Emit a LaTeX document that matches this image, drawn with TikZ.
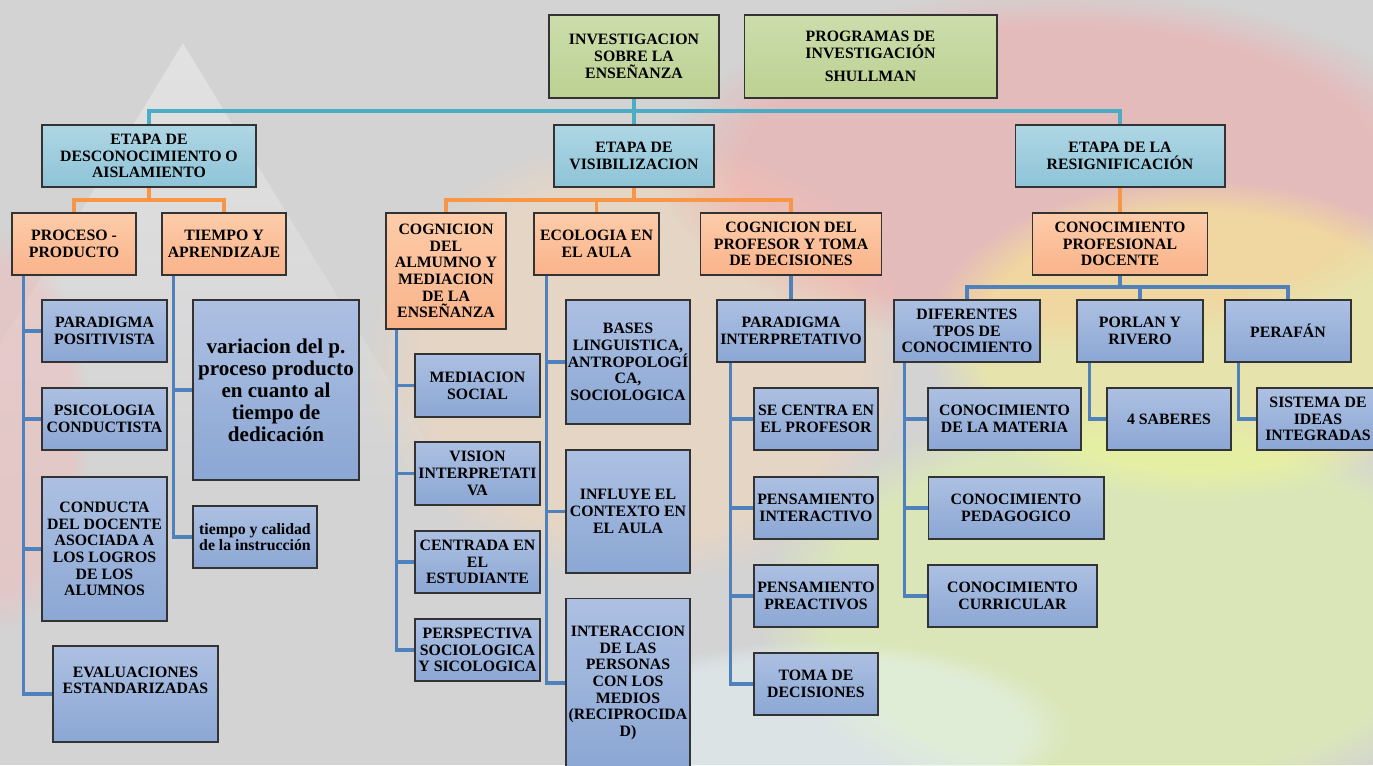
\documentclass[tikz,border=0pt]{standalone}
\usepackage{fontspec}
\setmainfont{Liberation Serif}
\usetikzlibrary{fadings}

\definecolor{bggray}{HTML}{D3D3D3}
\definecolor{greentop}{HTML}{CCDDAC}
\definecolor{greenbot}{HTML}{BCD192}
\definecolor{stagetop}{HTML}{AFD6E4}
\definecolor{stagebot}{HTML}{8EC4D8}
\definecolor{themetop}{HTML}{FDCCA9}
\definecolor{themebot}{HTML}{F9B38A}
\definecolor{leaftop}{HTML}{ADC0E2}
\definecolor{leafbot}{HTML}{8BA7D4}
\definecolor{boxline}{HTML}{333333}
\definecolor{topblue}{HTML}{4BACC6}
\definecolor{themeorange}{HTML}{F79646}
\definecolor{leafblue}{HTML}{4F81BD}

\tikzset{
  basebox/.style={draw=boxline, line width=0.6pt, align=center,
    inner xsep=1pt, inner ysep=1pt,
    font=\bfseries\fontsize{9}{9.5}\selectfont},
  greenbox/.style={basebox, top color=greentop, bottom color=greenbot,
    minimum height=1.66cm},
  stagebox/.style={basebox, top color=stagetop, bottom color=stagebot,
    minimum height=1.24cm},
  themebox/.style={basebox, top color=themetop, bottom color=themebot,
    minimum width=2.48cm, minimum height=1.24cm},
  leafbox/.style={basebox, top color=leaftop, bottom color=leafbot,
    minimum width=2.48cm, minimum height=1.24cm},
  topline/.style={draw=topblue, line width=1.8pt},
  themeline/.style={draw=themeorange, line width=1.8pt},
  leafline/.style={draw=leafblue, line width=1.8pt},
  fuzzy/.style={path fading=circle with fuzzy edge 20 percent}
}

\begin{document}
\begin{tikzpicture}[x=0.02cm,y=-0.02cm]
  \useasboundingbox (0,0) rectangle (1373,765);
  % background
  \begin{scope}
    \clip (0,0) rectangle (1373,765);
    \fill[bggray] (0,0) rectangle (1373,765);
    \fill[white, opacity=0.35, path fading=south] (183,43) -- (-94,500) -- (462,500) -- cycle;
    \fill[red!30!white, opacity=0.35, fuzzy] (0,430) ellipse [x radius=1.8cm, y radius=4cm];
    \fill[orange!30!white, opacity=0.4, fuzzy] (640,360) ellipse [x radius=5.5cm, y radius=4.5cm];
    \fill[red!40!white, opacity=0.4, fuzzy] (1060,170) ellipse [x radius=8cm, y radius=3.6cm];
    \fill[yellow!50!white, opacity=0.45, fuzzy] (1200,340) ellipse [x radius=5.5cm, y radius=3.2cm];
    \fill[green!25!yellow!40!white, opacity=0.45, fuzzy] (1130,610) ellipse [x radius=7.5cm, y radius=4.2cm];
    \fill[cyan!10!white, opacity=0.45, fuzzy] (820,730) ellipse [x radius=5cm, y radius=1.8cm];
  \end{scope}

  % top
  \node[greenbox, minimum width=3.4cm] (inv) at (634,56.5) {INVESTIGACION\\SOBRE LA\\ENSEÑANZA};
  \node[greenbox, minimum width=5.06cm] (prog) at (870.5,56.5) {PROGRAMAS DE\\INVESTIGACIÓN\\[4pt]SHULLMAN};

  \node[stagebox, minimum width=4.28cm] (desc) at (149,156) {ETAPA DE\\DESCONOCIMIENTO O\\AISLAMIENTO};
  \node[stagebox, minimum width=3.2cm] (vis) at (634,156) {ETAPA DE\\VISIBILIZACION};
  \node[stagebox, minimum width=4.2cm] (resig) at (1120,156) {ETAPA DE LA\\RESIGNIFICACIÓN};

  \node[themebox] (proc) at (74,244) {PROCESO -\\PRODUCTO};
  \node[themebox] (tiempo) at (224,244) {TIEMPO Y\\APRENDIZAJE};
  \node[themebox, minimum width=2.4cm, minimum height=2.32cm] (cogalu) at (446,271) {COGNICION\\DEL\\ALMUMNO Y\\MEDIACION\\DE LA\\ENSEÑANZA};
  \node[themebox, minimum width=2.5cm] (ecol) at (596.5,244) {ECOLOGIA EN\\EL AULA};
  \node[themebox, minimum width=3.62cm] (cogprof) at (791,244) {COGNICION DEL\\PROFESOR Y TOMA\\DE DECISIONES};
  \node[themebox, minimum width=3.5cm] (conprof) at (1120,244) {CONOCIMIENTO\\PROFESIONAL\\DOCENTE};

  % proceso - producto
  \node[leafbox, minimum width=2.5cm] (parpos) at (104.5,331) {PARADIGMA\\POSITIVISTA};
  \node[leafbox, minimum width=2.5cm] (psico) at (104.5,419) {PSICOLOGIA\\CONDUCTISTA};
  \node[leafbox, minimum width=2.5cm, minimum height=2.88cm] (conducta) at (104.5,549) {CONDUCTA\\DEL DOCENTE\\ASOCIADA A\\LOS LOGROS\\DE LOS\\ALUMNOS};
  \node[leafbox, minimum width=3.3cm, minimum height=1.92cm] (evalua) at (135.5,694) {EVALUACIONES\\ESTANDARIZADAS\\[6pt]};

  % tiempo y aprendizaje
  \node[leafbox, minimum width=3.32cm, minimum height=3.6cm,
    font=\bfseries\fontsize{12}{12.5}\selectfont] (variac) at (276,390) {variacion del p.\\proceso producto\\en cuanto al\\tiempo de\\dedicación};
  \node[leafbox] (calidad) at (255,537) {tiempo y calidad\\de la instrucción};

  % cognicion del alumno
  \node[leafbox, minimum width=2.5cm, minimum height=1.26cm] (medsoc) at (477.5,385.5) {MEDIACION\\SOCIAL};
  \node[leafbox, minimum width=2.5cm, minimum height=1.26cm] (vision) at (477.5,473.5) {VISION\\INTERPRETATI\\VA};
  \node[leafbox, minimum width=2.5cm] (centrada) at (477.5,562) {CENTRADA EN\\EL\\ESTUDIANTE};
  \node[leafbox, minimum width=2.5cm] (perspec) at (477.5,650) {PERSPECTIVA\\SOCIOLOGICA\\Y SICOLOGICA};

  % ecologia en el aula
  \node[leafbox, minimum height=2.48cm] (bases) at (628,362) {BASES\\LINGUISTICA,\\ANTROPOLOGÍ\\CA,\\SOCIOLOGICA};
  \node[leafbox, minimum height=2.46cm] (influye) at (628,511.5) {INFLUYE EL\\CONTEXTO EN\\EL AULA};
  \node[leafbox, minimum height=3.4cm] (interac) at (628,683) {INTERACCION\\DE LAS\\PERSONAS\\CON LOS\\MEDIOS\\(RECIPROCIDA\\D)};

  % cognicion del profesor
  \node[leafbox, minimum width=2.96cm] (parint) at (791,331) {PARADIGMA\\INTERPRETATIVO};
  \node[leafbox] (secentra) at (816,419) {SE CENTRA EN\\EL PROFESOR};
  \node[leafbox] (pensint) at (816,508) {PENSAMIENTO\\INTERACTIVO};
  \node[leafbox] (pensprea) at (816,596) {PENSAMIENTO\\PREACTIVOS};
  \node[leafbox] (toma) at (816,684) {TOMA DE\\DECISIONES};

  % conocimiento profesional docente
  \node[leafbox, minimum width=2.92cm] (dif) at (967,331) {DIFERENTES\\TPOS DE\\CONOCIMIENTO};
  \node[leafbox, minimum width=2.52cm] (porlan) at (1140,331) {PORLAN Y\\RIVERO};
  \node[leafbox, minimum width=2.52cm] (perafan) at (1288,331) {PERAFÁN};
  \node[leafbox, minimum width=3.06cm] (materia) at (1004.5,419) {CONOCIMIENTO\\DE LA MATERIA};
  \node[leafbox, minimum width=3.52cm] (pedag) at (1016,508) {CONOCIMIENTO\\PEDAGOGICO};
  \node[leafbox, minimum width=3.38cm] (curric) at (1012.5,596) {CONOCIMIENTO\\CURRICULAR};
  \node[leafbox] (saberes) at (1169,419) {4 SABERES};
  \node[leafbox, minimum width=2.44cm] (sistema) at (1318,419) {SISTEMA DE\\IDEAS\\INTEGRADAS};

  % connectors
  \coordinate (topbus) at (634,111);
  \draw[topline] (inv.south) -- (topbus);
  \draw[topline] (desc.north) |- (topbus) -| (resig.north);
  \draw[topline] (vis.north) -- (vis.north |- topbus);

  \coordinate (descbus) at (149,200);
  \draw[themeline] (desc.south) -- (descbus);
  \draw[themeline] (proc.north) |- (descbus) -| (tiempo.north);

  \coordinate (visbus) at (634,200);
  \draw[themeline] (vis.south) -- (visbus);
  \draw[themeline] (cogalu.north) |- (visbus) -| (cogprof.north);
  \draw[themeline] (ecol.north) -- (ecol.north |- visbus);

  \draw[themeline] (resig.south) -- (conprof.north);
  \draw[leafline] (cogprof.south) -- (parint.north);

  \coordinate (conbus) at (1120,287);
  \draw[leafline] (conprof.south) -- (conbus);
  \draw[leafline] (dif.north) |- (conbus) -| (perafan.north);
  \draw[leafline] (porlan.north) -- (porlan.north |- conbus);

  \foreach \k in {parpos,psico,conducta,evalua}
    \draw[leafline] ([xshift=0.24cm]proc.south west) |- (\k.west);
  \foreach \k in {variac,calidad}
    \draw[leafline] ([xshift=0.24cm]tiempo.south west) |- (\k.west);
  \foreach \k in {medsoc,vision,centrada,perspec}
    \draw[leafline] ([xshift=0.22cm]cogalu.south west) |- (\k.west);
  \foreach \k in {bases,influye,interac}
    \draw[leafline] ([xshift=0.26cm]ecol.south west) |- (\k.west);
  \foreach \k in {secentra,pensint,pensprea,toma}
    \draw[leafline] ([xshift=0.28cm]parint.south west) |- (\k.west);
  \foreach \k in {materia,pedag,curric}
    \draw[leafline] ([xshift=0.22cm]dif.south west) |- (\k.west);
  \draw[leafline] ([xshift=0.26cm]porlan.south west) |- (saberes.west);
  \draw[leafline] ([xshift=0.28cm]perafan.south west) |- (sistema.west);
\end{tikzpicture}
\end{document}
